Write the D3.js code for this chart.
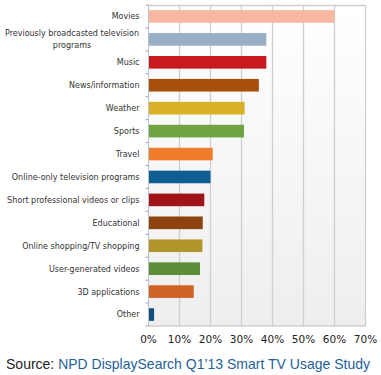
<!DOCTYPE html>
<html><head><meta charset="utf-8">
<script src="https://cdn.jsdelivr.net/npm/d3@7"></script>
<style>body{margin:0;background:#fff}svg{display:block}</style>
</head><body>
<svg id="c" width="381" height="375"></svg>
<script>
const categories = ["Movies","Previously broadcasted television programs","Music","News/information","Weather","Sports","Travel","Online-only television programs","Short professional videos or clips","Educational","Online shopping/TV shopping","User-generated videos","3D applications","Other"];
const values = [60, 38, 38, 35.6, 31, 30.8, 20.7, 20, 18, 17.5, 17.4, 16.6, 14.6, 1.8];
const colors = ["#f7b7a0","#9aaec6","#c8191e","#a84f0c","#d8b127","#6ea442","#f07d2c","#0f5e91","#a01419","#8c430d","#b3962a","#5c8d38","#cf6324","#0f4f7c"];
const ticks = [0,10,20,30,40,50,60,70];

const svg = d3.select("#c");
const m = {l:148.5, r:365.5, t:5, b:326};
const x = d3.scaleLinear().domain([0,70]).range([m.l, m.r]);
const y = d3.scaleBand().domain(categories).range([m.t, m.b]).paddingInner(0.45).paddingOuter(0.225);
const step = (m.b - m.t)/categories.length;

const defs = svg.append("defs");
const g = defs.append("linearGradient").attr("id","bg").attr("x1",0).attr("y1",0).attr("x2",0).attr("y2",1);
g.append("stop").attr("offset","0%").attr("stop-color","#ffffff");
g.append("stop").attr("offset","100%").attr("stop-color","#eeeeee");

svg.append("rect").attr("x",m.l).attr("y",m.t).attr("width",m.r-m.l).attr("height",m.b-m.t).attr("fill","url(#bg)");

svg.append("g").selectAll("line").data(ticks.slice(1)).join("line")
  .attr("x1",d=>x(d)).attr("x2",d=>x(d)).attr("y1",m.t).attr("y2",m.b)
  .attr("stroke","#cfcfcf").attr("stroke-width",1.3);
svg.append("line").attr("x1",m.l).attr("x2",m.r).attr("y1",m.t+0.5).attr("y2",m.t+0.5).attr("stroke","#cfcfcf").attr("stroke-width",1.3);
svg.append("line").attr("x1",m.l).attr("x2",m.r).attr("y1",m.b).attr("y2",m.b).attr("stroke","#cfcfcf").attr("stroke-width",1.3);

svg.append("g").selectAll("rect").data(categories).join("rect")
  .attr("x",x(0)).attr("y",d=>y(d)).attr("height",y.bandwidth())
  .attr("width",(d,i)=>x(values[i])-x(0)).attr("fill",(d,i)=>colors[i]);

// left axis
svg.append("line").attr("x1",m.l).attr("x2",m.l).attr("y1",m.t).attr("y2",m.b).attr("stroke","#b9c3cf").attr("stroke-width",1);
svg.append("g").selectAll("line").data(d3.range(categories.length+1)).join("line")
  .attr("x1",m.l-3).attr("x2",m.l).attr("y1",i=>m.t+i*step).attr("y2",i=>m.t+i*step)
  .attr("stroke","#9aa6b4");

// category labels
const lab = svg.append("g").attr("font-family","Verdana, 'DejaVu Sans', sans-serif").attr("font-size","8px").attr("fill","#333");
categories.forEach((c,i)=>{
  const cy = y(c)+y.bandwidth()/2;
  if (c === "Previously broadcasted television programs") {
    const t = lab.append("text").attr("text-anchor","middle").attr("x",72);
    t.append("tspan").attr("x",72).attr("y",cy-3).text("Previously broadcasted television");
    t.append("tspan").attr("x",72).attr("y",cy+8.5).text("programs");
  } else {
    lab.append("text").attr("text-anchor","end").attr("x",139.5).attr("y",cy+2.9).text(c);
  }
});

// x tick labels
svg.append("g").selectAll("text").data(ticks).join("text")
  .attr("x",d=>x(d)).attr("y",343).attr("text-anchor","middle")
  .attr("font-family","Verdana, 'DejaVu Sans', sans-serif").attr("font-size","10.5px").attr("fill","#222")
  .text(d=>d+"%");

// source
const s = svg.append("text").attr("x",6).attr("y",369).attr("font-family","Arial, 'Liberation Sans', sans-serif").attr("font-size","14.4px")
  .attr("textLength",364).attr("lengthAdjust","spacingAndGlyphs");
s.append("tspan").attr("fill","#222").text("Source: ");
s.append("tspan").attr("fill","#1f5f99").text("NPD DisplaySearch Q1’13 Smart TV Usage Study");
</script>
</body></html>
